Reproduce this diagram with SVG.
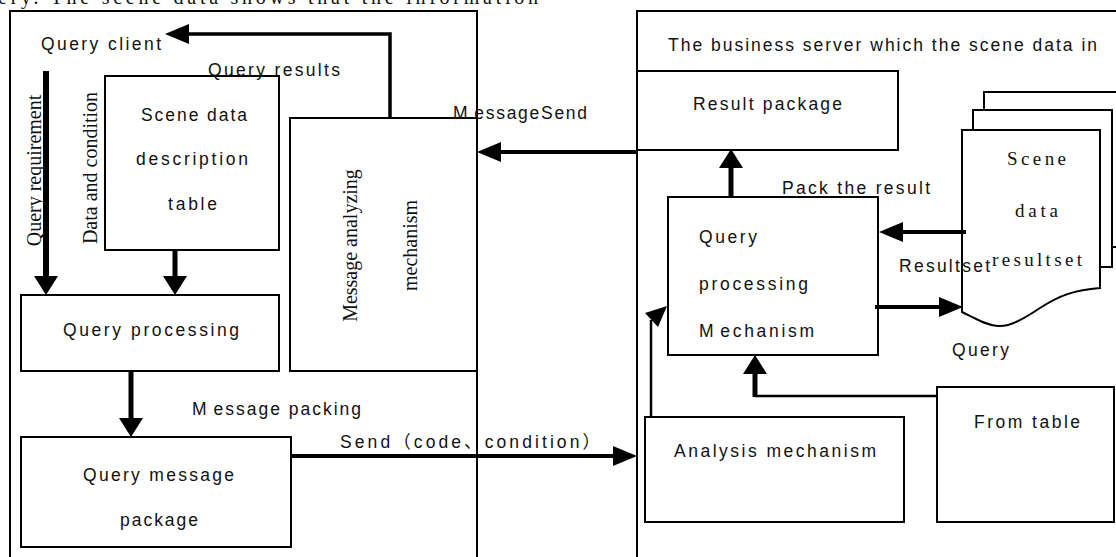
<svg xmlns="http://www.w3.org/2000/svg" width="1116" height="557" viewBox="0 0 1116 557">
<style>
.frame{fill:none;stroke:#000;stroke-width:2}
.box{fill:#fff;stroke:#000;stroke-width:2}
.lbl{font-family:"Liberation Sans",Arial,sans-serif;font-size:17.5px;fill:#111}
.cjk{font-family:"Liberation Sans","Noto Sans CJK SC",sans-serif;font-size:17.5px;fill:#111}
.ser{font-family:"Liberation Serif","Times New Roman",serif;font-size:20px;fill:#111}
.docs{font-family:"Liberation Serif","Times New Roman",serif;font-size:19px;fill:#111}
.c{fill:none;stroke:#000}
</style>
<defs>
<marker id="mA" markerUnits="userSpaceOnUse" markerWidth="20" markerHeight="26" refX="0" refY="12" orient="auto" viewBox="0 0 20 26" overflow="visible">
<path d="M0,0 L19,12 L0,24 Z" fill="#000"/>
</marker>
<marker id="mB" markerUnits="userSpaceOnUse" markerWidth="26" markerHeight="22" refX="0" refY="10" orient="auto" viewBox="0 0 26 22" overflow="visible">
<path d="M0,0 L24,10 L0,20 Z" fill="#000"/>
</marker>
</defs>
<rect width="1116" height="557" fill="#fff"/>

<text class="ser" x="-2" y="3.5" textLength="540" lengthAdjust="spacing" font-size="20">ery. The scene data shows that the information</text>

<g id="client-frame">
<path class="frame" d="M10,560 L10,11 L477,11 L477,560"/>
<text class="lbl" x="41" y="50" textLength="120" lengthAdjust="spacing">Query client</text>
</g>
<g id="server-frame">
<path class="frame" d="M637,560 L637,11 L1120,11"/>
<text class="lbl" x="668" y="51" textLength="429" lengthAdjust="spacing">The business server which the scene data in</text>
</g>

<g id="scene-table">
<rect class="box" x="105" y="76" width="174" height="174"/>
<text class="lbl" x="141" y="121" textLength="106" lengthAdjust="spacing">Scene data</text>
<text class="lbl" x="136" y="165" textLength="112" lengthAdjust="spacing">description</text>
<text class="lbl" x="168" y="210" textLength="49" lengthAdjust="spacing">table</text>
</g>

<g id="msg-analyzing">
<rect class="box" x="290" y="118" width="187" height="253"/>
<text class="ser" text-anchor="middle" transform="translate(357,245.5) rotate(-90)" font-size="21">Message analyzing</text>
<text class="ser" text-anchor="middle" transform="translate(417,245.5) rotate(-90)" font-size="21">mechanism</text>
</g>

<g id="query-processing">
<rect class="box" x="21" y="295" width="258" height="76"/>
<text class="lbl" x="63" y="336" textLength="176" lengthAdjust="spacing">Query processing</text>
</g>

<g id="query-message-package">
<rect class="box" x="21" y="437" width="270" height="110"/>
<text class="lbl" x="83" y="481" textLength="151" lengthAdjust="spacing">Query message</text>
<text class="lbl" x="120" y="526" textLength="78" lengthAdjust="spacing">package</text>
</g>

<g id="result-package">
<rect class="box" x="637" y="71" width="261" height="79"/>
<text class="lbl" x="693" y="110" textLength="149" lengthAdjust="spacing">Result package</text>
</g>

<g id="qp-mechanism">
<rect class="box" x="668" y="197" width="210" height="158"/>
<text class="lbl" x="699" y="243" textLength="58" lengthAdjust="spacing">Query</text>
<text class="lbl" x="699" y="290" textLength="109" lengthAdjust="spacing">processing</text>
<text class="lbl" x="699" y="337" textLength="115" lengthAdjust="spacing">M<tspan dx="4">echanism</tspan></text>
</g>

<g id="resultset-docs">
<rect class="box" x="984" y="92" width="140" height="155"/>
<rect class="box" x="973" y="110" width="139" height="157"/>
<path class="box" d="M962,130 L1100,130 L1100,288 C1075,290 1060,295 1040,308 C1025,318 1010,327 998,326 C985,325 975,318 962,312 Z"/>
<text class="docs" x="1007" y="165" textLength="59" lengthAdjust="spacing">Scene</text>
<text class="docs" x="1015" y="217" textLength="43" lengthAdjust="spacing">data</text>
<text class="docs" x="992" y="266" textLength="90" lengthAdjust="spacing">resultset</text>
</g>

<g id="analysis-mechanism">
<rect class="box" x="645" y="417" width="259" height="105"/>
<text class="lbl" x="674" y="457" textLength="202" lengthAdjust="spacing">Analysis mechanism</text>
</g>

<g id="from-table">
<rect class="box" x="937" y="387" width="177" height="135"/>
<text class="lbl" x="974" y="428" textLength="106" lengthAdjust="spacing">From table</text>
</g>

<g id="connectors">
<path class="c" stroke-width="3.5" d="M390,118 L390,34 L189,34" marker-end="url(#mB)"/>
<path class="c" stroke-width="6" d="M46,71 L46,276" marker-end="url(#mA)"/>
<path class="c" stroke-width="5" d="M175,250 L175,276" marker-end="url(#mA)"/>
<path class="c" stroke-width="5" d="M131,371 L131,418" marker-end="url(#mA)"/>
<path class="c" stroke-width="4" d="M291,456 L613,456" marker-end="url(#mB)"/>
<path class="c" stroke-width="4" d="M637,152 L501,152" marker-end="url(#mB)"/>
<path class="c" stroke-width="5" d="M731,197 L731,168" marker-end="url(#mA)"/>
<path class="c" stroke-width="4" d="M966,232 L903,232" marker-end="url(#mB)"/>
<path class="c" stroke-width="4" d="M875,307 L939,307" marker-end="url(#mB)"/>
<path class="c" stroke-width="2.5" d="M937,396 L755,396"/>
<path class="c" stroke-width="5" d="M755,397 L755,374" marker-end="url(#mA)"/>
<path class="c" stroke-width="2.5" d="M651,417 L651,320"/>
<polygon points="667,306 645,313 658,327" fill="#000"/>
<text class="ser" text-anchor="middle" transform="translate(41,170.5) rotate(-90)">Query requirement</text>
<text class="ser" text-anchor="middle" transform="translate(97,168) rotate(-90)">Data and condition</text>
<text class="lbl" x="208" y="76" textLength="132" lengthAdjust="spacing">Query results</text>
<text class="lbl" x="453" y="119" textLength="134" lengthAdjust="spacing">M<tspan dx="5">essageSend</tspan></text>
<text class="lbl" x="192" y="415" textLength="169" lengthAdjust="spacing">M<tspan dx="5">essage packing</tspan></text>
<text class="cjk" x="340" y="448" textLength="260" lengthAdjust="spacing">Send（code、condition）</text>
<text class="lbl" x="782" y="194" textLength="148" lengthAdjust="spacing">Pack the result</text>
<text class="lbl" x="899" y="272" textLength="91" lengthAdjust="spacing">Resultset</text>
<text class="lbl" x="952" y="356" textLength="57" lengthAdjust="spacing">Query</text>
</g>
</svg>
